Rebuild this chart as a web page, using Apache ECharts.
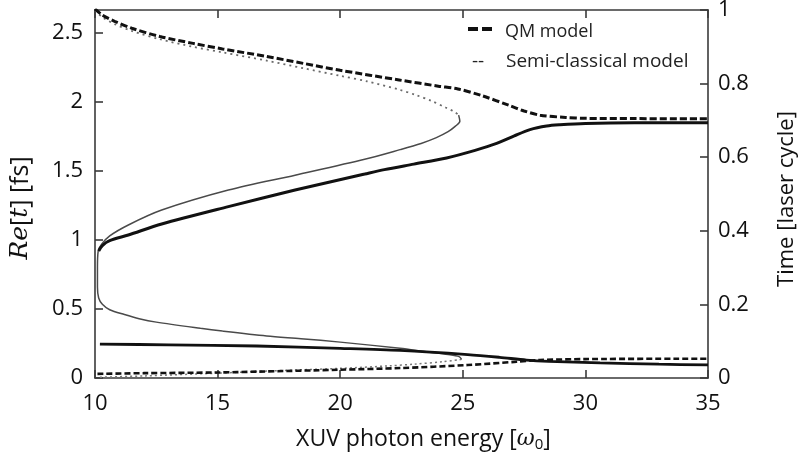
<!DOCTYPE html>
<html>
<head>
<meta charset="utf-8">
<script src="https://cdn.jsdelivr.net/npm/echarts@6/dist/echarts.min.js"></script>
<style>
  html, body { margin: 0; padding: 0; background: #fff; }
  #chart { width: 800px; height: 459px; }
</style>
</head>
<body>
<div id="chart"></div>
<script>
// ---- data (x: XUV photon energy [w0], y: Re[t] [fs]) ----
const xTicks = [10, 15, 20, 25, 30, 35];
const leftTicks = [0, 0.5, 1, 1.5, 2, 2.5];
const rightTicks = [0, 0.2, 0.4, 0.6, 0.8, 1];
const legendLabels = ['QM model', 'Semi-classical model'];

const qmUpperDashed = [
  [10.0, 2.675], [10.3, 2.63], [10.8, 2.585], [11.5, 2.535], [12.65, 2.475], [14, 2.425],
  [15.2, 2.385], [17, 2.33], [18.5, 2.28], [20, 2.23], [22.4, 2.16], [24, 2.115],
  [24.8, 2.095], [25.8, 2.045], [26.9, 1.975], [27.5, 1.935], [28.15, 1.905],
  [29.2, 1.888], [30, 1.882], [32, 1.88], [35, 1.878]
];
const qmUpperSolid = [
  [10.15, 0.92], [10.3, 0.96], [10.6, 0.995], [11.36, 1.036], [12.72, 1.116],
  [15.44, 1.242], [18.16, 1.362], [21.0, 1.478], [21.8, 1.51], [23.0, 1.55],
  [24.34, 1.595], [25.5, 1.65], [26.38, 1.70], [27.1, 1.755], [27.74, 1.80],
  [28.42, 1.826], [28.96, 1.835], [30, 1.845], [32, 1.85], [35, 1.85]
];
const qmLowerSolid = [
  [10.2, 0.246], [13, 0.24], [16.6, 0.232], [20, 0.215], [22.44, 0.2], [25.2, 0.17],
  [26.5, 0.15], [27.6, 0.13], [28.5, 0.121], [30.6, 0.11], [33, 0.1], [35, 0.095]
];
const qmLowerDashed = [
  [10.1, 0.03], [12, 0.035], [15, 0.04], [16.6, 0.046], [20, 0.06], [22.44, 0.072],
  [25.2, 0.094], [27.2, 0.118], [28.15, 0.13], [30, 0.137], [35, 0.14]
];
const scUpperDotted = [
  [10.0, 2.665], [10.3, 2.615], [10.8, 2.565], [11.5, 2.515], [12.65, 2.455], [14, 2.40],
  [15.2, 2.36], [17, 2.30], [18.5, 2.245], [20, 2.19], [21.1, 2.15], [22.4, 2.09],
  [23.1, 2.05], [23.7, 2.01], [24.3, 1.96], [24.65, 1.93], [24.83, 1.905]
];
const scSolid = [
  [24.83, 1.905], [24.88, 1.86], [24.7, 1.825], [24.4, 1.785], [23.9, 1.74],
  [23.3, 1.70], [22.44, 1.655], [21.0, 1.585], [18.16, 1.47], [15.44, 1.362],
  [12.72, 1.217], [11.36, 1.109], [10.6, 1.03], [10.27, 0.97], [10.13, 0.92],
  [10.1, 0.8], [10.1, 0.66], [10.15, 0.58], [10.3, 0.535], [10.6, 0.495],
  [11.2, 0.46], [11.8, 0.43], [12.5, 0.405], [14.3, 0.36], [15.2, 0.34],
  [17, 0.305], [18.4, 0.285], [20, 0.26], [22.44, 0.215], [23.5, 0.19],
  [24.4, 0.17], [24.85, 0.155], [24.95, 0.135]
];
const scLowerDotted = [
  [24.95, 0.135], [24.2, 0.118], [23, 0.1], [22, 0.088], [20, 0.07], [17, 0.05],
  [15, 0.035], [12, 0.015], [10.1, 0.005]
];

const FONT = '"Open Sans", "Noto Sans", sans-serif';
const axisLineStyle = { color: '#3a3a3a', width: 1.6 };

const chart = echarts.init(document.getElementById('chart'), null, { renderer: 'canvas' });

function lineSeries(name, data, color, width, type) {
  return {
    name: name, type: 'line', data: data, xAxisIndex: 0, yAxisIndex: 0,
    symbol: 'none', smooth: 0.3, animation: false, silent: true,
    lineStyle: { color: color, width: width, type: type },
    itemStyle: { color: color }
  };
}

chart.setOption({
  backgroundColor: '#ffffff',
  animation: false,
  grid: { left: 95, right: 92, top: 10, bottom: 81, containLabel: false, outerBoundsMode: 'none' },
  graphic: [
    { type: 'line', silent: true, shape: { x1: 468, y1: 29, x2: 494, y2: 29 },
      style: { stroke: '#111', lineWidth: 4, lineDash: [10, 4] } },
    { type: 'text', silent: true, x: 505, y: 32,
      style: { text: legendLabels[0], font: '18px ' + FONT, fill: '#222', verticalAlign: 'middle' } },
    { type: 'text', silent: true, x: 472, y: 62,
      style: { text: '--', font: '19px ' + FONT, fill: '#222', verticalAlign: 'middle' } },
    { type: 'text', silent: true, x: 506, y: 62,
      style: { text: legendLabels[1], font: '19px ' + FONT, fill: '#222', verticalAlign: 'middle' } }
  ],
  xAxis: [
    {
      type: 'value', min: 10, max: 35, interval: 5, position: 'bottom',
      axisLine: { show: true, onZero: false, lineStyle: axisLineStyle },
      axisTick: { show: true, inside: true, length: 8, lineStyle: axisLineStyle },
      splitLine: { show: false },
      axisLabel: { fontFamily: FONT, fontSize: 22, color: '#111', margin: 15,
        formatter: v => xTicks.includes(v) ? String(v) : '' },
      name: 'XUV photon energy [{i|ω}{s|0}]',
      nameLocation: 'middle', nameGap: 48,
      nameTextStyle: { fontFamily: FONT, fontSize: 23, color: '#111', padding: [0, 0, 0, 44],
        rich: {
          i: { fontFamily: 'DejaVu Serif', fontStyle: 'italic', fontSize: 22, color: '#111' },
          s: { fontFamily: FONT, fontSize: 15, color: '#111', padding: [11, 0, 0, 0] }
        } }
    },
    {
      type: 'value', min: 10, max: 35, interval: 5, position: 'top',
      axisLine: { show: true, onZero: false, lineStyle: axisLineStyle },
      axisTick: { show: true, inside: true, length: 8, lineStyle: axisLineStyle },
      axisLabel: { show: false }, splitLine: { show: false }
    }
  ],
  yAxis: [
    {
      type: 'value', min: 0, max: 2.667, interval: 0.5, position: 'left',
      axisLine: { show: true, onZero: false, lineStyle: axisLineStyle },
      axisTick: { show: true, inside: true, length: 8, lineStyle: axisLineStyle },
      splitLine: { show: false },
      axisLabel: { fontFamily: FONT, fontSize: 22, color: '#111', margin: 12, showMaxLabel: false,
        formatter: v => leftTicks.some(t => Math.abs(t - v) < 1e-6) ? String(v) : '' },
      name: '{i|Re}[{i|t}] [fs]',
      nameLocation: 'middle', nameRotate: 90, nameGap: 62,
      nameTextStyle: { fontFamily: FONT, fontSize: 25, color: '#111', padding: [0, 28, 0, 0],
        rich: { i: { fontFamily: 'DejaVu Serif', fontStyle: 'italic', fontSize: 25, color: '#111' } } }
    },
    {
      type: 'value', min: 0, max: 1, interval: 0.2, position: 'right',
      axisLine: { show: true, onZero: false, lineStyle: axisLineStyle },
      axisTick: { show: true, inside: true, length: 8, lineStyle: axisLineStyle },
      splitLine: { show: false },
      axisLabel: { fontFamily: FONT, fontSize: 22, color: '#111', margin: 10,
        formatter: v => rightTicks.some(t => Math.abs(t - v) < 1e-6) ? String(+v.toFixed(1)) : '' },
      name: 'Time [laser cycle]',
      nameLocation: 'middle', nameRotate: 90, nameGap: 68,
      nameTextStyle: { fontFamily: FONT, fontSize: 22, color: '#111', padding: [0, 10, 0, 0] }
    }
  ],
  series: [
    lineSeries('Semi-classical model', scUpperDotted, '#6a6a6a', 1.8, [2, 4]),
    lineSeries('sc-solid', scSolid, '#4a4a4a', 1.5, 'solid'),
    lineSeries('sc-lower', scLowerDotted, '#777', 1.5, [2, 3]),
    lineSeries('QM model', qmUpperDashed, '#111', 3, [7, 3]),
    lineSeries('qm-upper-solid', qmUpperSolid, '#111', 3, 'solid'),
    lineSeries('qm-lower-solid', qmLowerSolid, '#111', 2.8, 'solid'),
    lineSeries('qm-lower-dashed', qmLowerDashed, '#111', 2.6, [6, 3])
  ]
});
</script>
</body>
</html>
